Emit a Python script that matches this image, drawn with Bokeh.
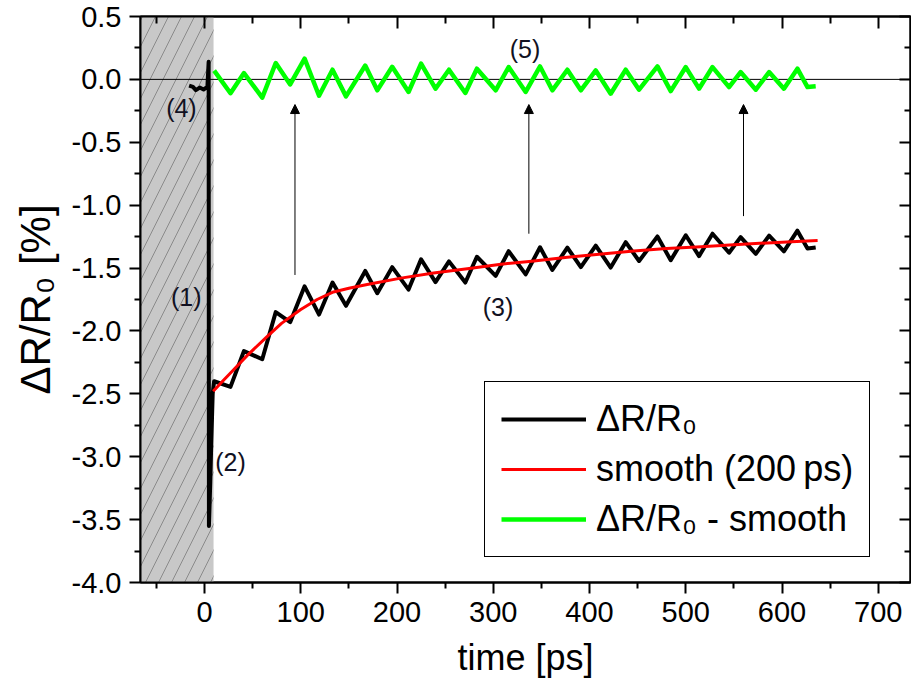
from bokeh.plotting import figure
from bokeh.models import (ColumnDataSource, BoxAnnotation, Span, LinearAxis, FixedTicker,
                          NumeralTickFormatter, Legend, LegendItem, Arrow, NormalHead, Range1d,
                          CustomJSTickFormatter)
from bokeh.core.properties import value
from bokeh.embed import file_html
from bokeh.resources import INLINE

# ---------------- data ----------------
x_ticks = [0, 100, 200, 300, 400, 500, 600, 700]
y_ticks = [-4.0, -3.5, -3.0, -2.5, -2.0, -1.5, -1.0, -0.5, 0.0, 0.5]

# dR/R0 raw trace (time in ps, value in %)
dr_time = [-16, -12, -9, -5, -1, 3, 4.3, 4.6, 6, 7, 8.5,
           10, 27, 41, 60, 74, 89, 104, 119, 133, 147,
           167, 179.5, 195, 212, 225, 240, 254, 271, 283, 302.5,
           316, 333.7, 348.6, 361.4, 377, 391, 406.5, 422, 437.6, 451.5,
           470.6, 484.4, 500, 513.8, 527.8, 545, 557, 572.8, 586.6, 602,
           616, 626.5, 635]
dr_value = [-0.05, -0.06, -0.085, -0.065, -0.08, -0.06, 0.14, -3.55, -3.2, -2.9, -2.5,
            -2.40, -2.445, -2.16, -2.225, -1.85, -1.93, -1.645, -1.87, -1.615, -1.80,
            -1.523, -1.70, -1.493, -1.671, -1.43, -1.612, -1.447, -1.615, -1.41, -1.562,
            -1.366, -1.55, -1.335, -1.515, -1.338, -1.492, -1.322, -1.496, -1.294, -1.444,
            -1.249, -1.438, -1.239, -1.405, -1.227, -1.378, -1.254, -1.387, -1.242, -1.367,
            -1.203, -1.345, -1.336]

# smooth (200 ps)
smooth_time = [9, 20, 30, 45, 65, 80, 100, 117, 134, 150, 169, 204, 238, 273, 308,
               340, 377, 410, 446, 480, 516, 550, 585, 610, 637]
smooth_value = [-2.48, -2.39, -2.31, -2.19, -2.045, -1.94, -1.83, -1.75, -1.69, -1.66,
                -1.63, -1.58, -1.54, -1.505, -1.47, -1.445, -1.415, -1.39, -1.365,
                -1.345, -1.33, -1.315, -1.30, -1.29, -1.28]

# dR/R0 - smooth
resid_time = [10, 27, 41, 60, 74, 89, 104, 119, 133, 147,
              167, 179.5, 195, 212, 225, 240, 254, 271, 283, 302.5,
              316, 333.7, 348.6, 361.4, 377, 391, 406.5, 422, 437.6, 451.5,
              470.6, 484.4, 500, 513.8, 527.8, 545, 557, 572.8, 586.6, 602,
              616, 626.5, 635]
resid_value = [0.07, -0.11, 0.05, -0.145, 0.13, -0.04, 0.165, -0.13, 0.077, -0.135,
               0.11, -0.087, 0.10, -0.10, 0.125, -0.074, 0.077, -0.108, 0.085, -0.087,
               0.098, -0.10, 0.103, -0.087, 0.077, -0.087, 0.071, -0.114, 0.077, -0.082,
               0.103, -0.093, 0.098, -0.074, 0.098, -0.061, 0.058, -0.082, 0.058, -0.074,
               0.085, -0.061, -0.055]

# arrows (time, start value, end value)
arrow_time = [94, 337, 560]
arrow_from = [-1.555, -1.227, -1.087]
arrow_to = [-0.2, -0.2, -0.2]

# annotation labels
ann_text = ["(1)", "(2)", "(3)", "(4)", "(5)"]
ann_time = [-19, 27, 305, -24, 333]
ann_value = [-1.73, -3.04, -1.81, -0.23, 0.238]

shade_end = 9.4   # end of hatched (pre-excitation) region, ps

series_labels = ["\u0394R/R\u2080", "smooth (200\u2009ps)", "\u0394R/R\u2080 - smooth"]

FONT = "Liberation Sans"

# ---------------- figure ----------------
p = figure(frame_width=770, frame_height=566,
           x_range=Range1d(-66.5, 733.5), y_range=Range1d(-4.0, 0.5),
           output_backend="svg", toolbar_location=None,
           min_border_left=140, min_border_top=16, min_border_bottom=108, min_border_right=1)
p.xgrid.visible = False
p.ygrid.visible = False
p.outline_line_color = "black"
p.outline_line_width = 2
p.background_fill_color = "white"
p.border_fill_color = "white"

xminor = [-50] + [t + 50 for t in x_ticks]
yminor = [t + 0.25 for t in y_ticks[:-1]]
xticker = FixedTicker(ticks=x_ticks, minor_ticks=xminor)
yticker = FixedTicker(ticks=y_ticks, minor_ticks=yminor)


def style_axis(ax):
    ax.axis_line_width = 2
    ax.axis_line_color = "black"
    ax.major_tick_line_width = 2
    ax.minor_tick_line_width = 2
    ax.major_tick_line_color = "black"
    ax.minor_tick_line_color = "black"
    ax.major_label_text_color = "black"
    ax.axis_label_text_color = "black"


# bottom axis
xa = p.xaxis[0]
style_axis(xa)
xa.ticker = xticker
xa.axis_label = "time [ps]"
xa.axis_label_text_font = FONT
xa.axis_label_text_font_size = "36px"
xa.axis_label_text_font_style = "normal"
xa.axis_label_standoff = 12
xa.major_label_text_font = FONT
xa.major_label_text_font_size = "29px"
xa.major_label_standoff = 8
xa.major_tick_out = 11
xa.major_tick_in = 0
xa.minor_tick_out = 6
xa.minor_tick_in = 0

# left axis
ya = p.yaxis[0]
style_axis(ya)
ya.ticker = yticker
ya.formatter = NumeralTickFormatter(format="0.0")
ya.axis_label = "\u0394R/R\u2080 [%]"
ya.axis_label_text_font = FONT
ya.axis_label_text_font_size = "42px"
ya.axis_label_text_font_style = "normal"
ya.axis_label_standoff = 10
ya.major_label_text_font = FONT
ya.major_label_text_font_size = "29px"
ya.major_label_standoff = 8
ya.major_tick_out = 11
ya.major_tick_in = 0
ya.minor_tick_out = 6
ya.minor_tick_in = 0

blank = CustomJSTickFormatter(code="return ''")
top = LinearAxis(ticker=xticker, formatter=blank, major_label_text_font_size="0px",
                 major_label_standoff=0, major_tick_in=12, major_tick_out=0,
                 minor_tick_in=7, minor_tick_out=0)
style_axis(top)
p.add_layout(top, "above")
right = LinearAxis(ticker=yticker, formatter=blank, major_label_text_font_size="0px",
                   major_label_standoff=0, major_tick_in=11, major_tick_out=0,
                   minor_tick_in=6, minor_tick_out=0)
style_axis(right)
p.add_layout(right, "right")

# hatched region and zero line
shade = BoxAnnotation(right=shade_end, fill_color="#c8c8c8", fill_alpha=1.0,
                      hatch_pattern="/", hatch_color="#7a7a7a", hatch_scale=26,
                      hatch_weight=0.8, line_color=None, level="underlay")
p.add_layout(shade)
zero = Span(location=0, dimension="width", line_color="black", line_width=1, level="underlay")
p.add_layout(zero)

# data lines
src_dr = ColumnDataSource(dict(t=dr_time, v=dr_value))
src_sm = ColumnDataSource(dict(t=smooth_time, v=smooth_value))
src_rs = ColumnDataSource(dict(t=resid_time, v=resid_value))

r_black = p.line("t", "v", source=src_dr, line_color="black", line_width=4, line_join="round")
r_red = p.line("t", "v", source=src_sm, line_color="#ff0000", line_width=3, line_join="round")
r_green = p.line("t", "v", source=src_rs, line_color="#00ff00", line_width=4.5, line_join="round")

# arrows
src_ar = ColumnDataSource(dict(x0=arrow_time, y0=arrow_from, x1=arrow_time, y1=arrow_to))
p.add_layout(Arrow(x_start="x0", y_start="y0", x_end="x1", y_end="y1", source=src_ar,
                   line_color="black", line_width=1,
                   end=NormalHead(size=9, fill_color="black", line_color="black", line_width=1)))

# annotation labels
src_an = ColumnDataSource(dict(t=ann_time, v=ann_value, s=ann_text))
p.text("t", "v", text="s", source=src_an, text_font=value(FONT), text_font_size=value("25px"),
       text_align="center", text_baseline="middle", text_color="#111122")

# legend
legend = Legend(items=[LegendItem(label=series_labels[0], renderers=[r_black]),
                       LegendItem(label=series_labels[1], renderers=[r_red]),
                       LegendItem(label=series_labels[2], renderers=[r_green])],
                location=(344, 25), border_line_color="black", border_line_width=1.5,
                border_line_alpha=1.0, label_text_color="black",
                label_text_font=FONT, label_text_font_size="36px",
                glyph_width=85, glyph_height=40, label_standoff=10,
                padding=16, spacing=8, margin=0, background_fill_color="white")
p.add_layout(legend)

open("out.html", "w").write(file_html(p, INLINE))
